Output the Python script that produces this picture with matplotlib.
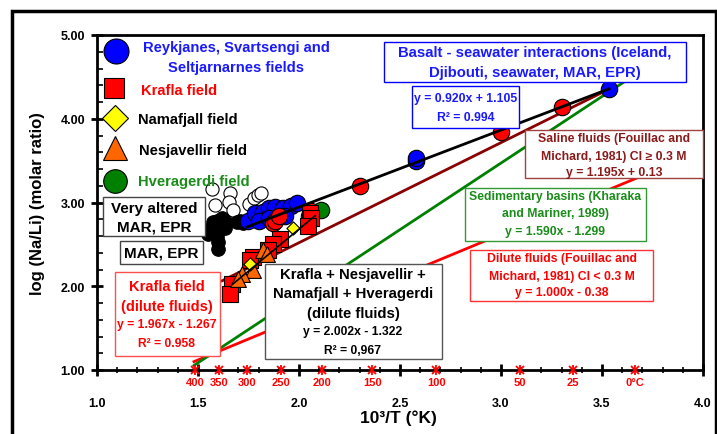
import matplotlib
matplotlib.use("Agg")
import matplotlib.pyplot as plt
from matplotlib.patches import Rectangle
from matplotlib.lines import Line2D
import numpy as np

plt.rcParams['font.family'] = ['Liberation Sans', 'DejaVu Sans']
plt.rcParams['font.weight'] = 'bold'

# ---------------- data ----------------
# Basalt-seawater reference points
basalt_red_x = [2.30, 3.00, 3.30]
basalt_red_y = [3.20, 3.84, 4.14]
basalt_blue_x = [2.58, 2.58, 3.535]
basalt_blue_y = [3.50, 3.53, 4.35]

# Reykjanes, Svartsengi and Seltjarnarnes (blue)
rey_x = [1.75, 1.78, 1.82, 1.85, 1.88, 1.92, 1.96, 1.99, 1.80, 1.85, 1.93]
rey_y = [2.78, 2.87, 2.89, 2.93, 2.95, 2.93, 2.96, 2.99, 2.78, 2.81, 2.84]

# Krafla circles (red) in cluster
kraf_c_x = [1.87, 1.88, 1.90, 2.05, 2.06]
kraf_c_y = [2.75, 2.78, 2.84, 2.84, 2.90]

# Krafla squares (dilute)
kraf_s_x = [2.054, 2.06, 2.045, 1.906, 1.871, 1.847, 1.772, 1.757, 1.668, 1.658]
kraf_s_y = [2.87, 2.81, 2.72, 2.57, 2.51, 2.43, 2.35, 2.31, 2.03, 1.91]

# Namafjall (yellow diamonds)
nama_x = [1.97, 1.757]
nama_y = [2.69, 2.27]

# Nesjavellir (orange triangles)
nesj_x = [1.82, 1.84, 1.77, 1.72, 1.70]
nesj_y = [2.43, 2.39, 2.19, 2.15, 2.09]

# Hveragerdi (green)
hver_x = [2.11]
hver_y = [2.91]

# MAR, EPR (black)
mar_x = [1.574, 1.594, 1.619, 1.634, 1.584, 1.594, 1.599, 1.599, 1.584, 1.624,
         1.708, 1.723, 1.743, 1.693, 1.634, 1.55, 1.56]
mar_y = [2.77, 2.78, 2.81, 2.78, 2.69, 2.60, 2.53, 2.45, 2.65, 2.72,
         2.78, 2.75, 2.77, 2.77, 2.69, 2.62, 2.68]

# Very altered MAR, EPR (white)
alt_x = [1.569, 1.658, 1.653, 1.584, 1.673, 1.752, 1.777, 1.797, 1.812]
alt_y = [3.156, 3.108, 3.01, 2.976, 2.916, 2.988, 3.048, 3.084, 3.108]

# fitted lines: slope, intercept, x-range
fit_basalt = (0.920, 1.105, 1.74, 3.535)
fit_saline = (1.195, 0.13, 1.62, 3.56)
fit_sed = (1.590, -1.299, 1.48, 3.66)
fit_dilute = (1.000, -0.38, 1.48, 3.75)
fit_kn = (2.002, -1.322, 1.67, 2.08)

# temperature marks on x-axis
temp_labels = ['400', '350', '300', '250', '200', '150', '100', '50', '25', '0°C']
temp_x = [1.486, 1.605, 1.745, 1.911, 2.113, 2.363, 2.680, 3.095, 3.354, 3.661]

x_ticks = [1.0, 1.5, 2.0, 2.5, 3.0, 3.5, 4.0]
y_ticks = [1.0, 2.0, 3.0, 4.0, 5.0]

# ---------------- figure ----------------
W, H = 717, 435
fig = plt.figure(figsize=(W / 100, H / 100), dpi=100)

def fx(x):
    return x / W

def fy(y):
    return 1 - y / H

ax = fig.add_axes([fx(97), fy(371), fx(703) - fx(97), fy(36) - fy(371)])
ax.set_xlim(1.0, 4.0)
ax.set_ylim(1.0, 5.0)
for s in ax.spines.values():
    s.set_linewidth(2)

ax.set_xticks(x_ticks)
ax.set_xticklabels([f'{v:.1f}' for v in x_ticks])
ax.set_xticks(np.arange(1.0, 4.001, 0.1), minor=True)
ax.set_yticks(y_ticks)
ax.set_yticklabels([f'{v:.2f}' for v in y_ticks])
ax.set_yticks(np.arange(1.0, 5.001, 0.2), minor=True)
ax.tick_params(axis='x', which='major', direction='inout', length=9, width=2,
               pad=15, labelsize=9)
ax.tick_params(axis='x', which='minor', direction='inout', length=5, width=1.2)
ax.tick_params(axis='y', which='major', direction='inout', length=9, width=2,
               pad=4, labelsize=9)
ax.tick_params(axis='y', which='minor', direction='in', length=4, width=1.2)
for lab in ax.get_xticklabels() + ax.get_yticklabels():
    lab.set_fontweight('bold')

# lines
def fitline(f, color, lw, z):
    m, b, x0, x1 = f
    xs = np.array([x0, x1])
    ax.plot(xs, m * xs + b, color=color, lw=lw, zorder=z)

fitline(fit_dilute, '#ff0000', 2.0, 2)
fitline(fit_sed, '#008000', 2.0, 2)
fitline(fit_saline, '#8b0000', 2.0, 2)

# markers
ax.scatter(alt_x, alt_y, s=90, facecolor='white', edgecolor='black', lw=0.8, zorder=3)
ax.scatter(mar_x, mar_y, s=95, facecolor='black', edgecolor='black', lw=0.8, zorder=3)
ax.scatter(rey_x, rey_y, s=140, facecolor='#0000ff', edgecolor='black', lw=0.8, zorder=3)
ax.scatter(kraf_c_x, kraf_c_y, s=140, facecolor='#ff0000', edgecolor='black', lw=0.8, zorder=3)
ax.scatter(hver_x, hver_y, s=140, facecolor='#008000', edgecolor='black', lw=0.8, zorder=3)
ax.scatter(kraf_s_x, kraf_s_y, s=120, marker='s', facecolor='#ff0000', edgecolor='black', lw=0.8, zorder=3)
ax.scatter(nesj_x, nesj_y, s=130, marker='^', facecolor='#ff6600', edgecolor='black', lw=0.8, zorder=3)
ax.scatter(nama_x, nama_y, s=45, marker='D', facecolor='#ffff00', edgecolor='black', lw=0.8, zorder=3)
ax.scatter(basalt_blue_x, basalt_blue_y, s=140, facecolor='#0000ff', edgecolor='black', lw=0.8, zorder=3)
ax.scatter(basalt_red_x, basalt_red_y, s=140, facecolor='#ff0000', edgecolor='black', lw=0.8, zorder=3)

fitline(fit_basalt, 'black', 2.0, 4)
fitline(fit_kn, 'black', 1.2, 4)

# temperature markers
ax.plot(temp_x, [1.0] * len(temp_x), ls='none', marker='x', ms=6, mew=1.3,
        color='#ff0000', zorder=6, clip_on=False)
ax.plot(temp_x, [1.0] * len(temp_x), ls='none', marker='|', ms=7, mew=1.3,
        color='#ff0000', zorder=6, clip_on=False)
for t, x in zip(temp_labels, temp_x):
    ax.text(x, 1.0 - 0.085, t, ha='center', va='top',
            fontsize=8, color='#ff0000', fontweight='bold', clip_on=False)

# axis labels
fig.text(fx(38), fy(204), 'log (Na/Li) (molar ratio)', rotation=90,
         ha='center', va='center', fontsize=12, fontweight='bold')
fig.text(fx(398), fy(418), '10³/T (°K)', ha='center', va='center',
         fontsize=12.5, fontweight='bold')

# legend
leg_items = [
    (116, 52, 'o', '#0000ff', 18),
    (114, 89, 's', '#ff0000', 15),
    (115, 119, 'D', '#ffff00', 13),
    (115, 149, '^', '#ff6600', 17),
    (115, 182, 'o', '#008000', 17),
]
for x, y, m, c, ms in leg_items:
    fig.add_artist(Line2D([fx(x)], [fy(y)], marker=m, ms=ms, mfc=c, mec='black',
                          mew=0.8, ls='none', transform=fig.transFigure))
fig.text(fx(236), fy(48), 'Reykjanes, Svartsengi and', ha='center', va='center',
         fontsize=10.6, color='#1a1aff', fontweight='bold')
fig.text(fx(236), fy(68), 'Seltjarnarnes fields', ha='center', va='center',
         fontsize=10.6, color='#1a1aff', fontweight='bold')
fig.text(fx(141), fy(91), 'Krafla field', ha='left', va='center',
         fontsize=10.6, color='#ff0000', fontweight='bold')
fig.text(fx(138), fy(120), 'Namafjall field', ha='left', va='center',
         fontsize=10.6, color='black', fontweight='bold')
fig.text(fx(139), fy(151), 'Nesjavellir field', ha='left', va='center',
         fontsize=10.6, color='black', fontweight='bold')
fig.text(fx(138), fy(182), 'Hveragerdi field', ha='left', va='center',
         fontsize=10.6, color='#1a8c1a', fontweight='bold')

# boxes
def box(x0, y0, x1, y1, ec, lw=1.0):
    fig.add_artist(Rectangle((fx(x0), fy(y1)), fx(x1) - fx(x0), fy(y0) - fy(y1),
                             transform=fig.transFigure, facecolor='white',
                             edgecolor=ec, lw=lw, zorder=5))

def txt(x, y, s, size, color):
    fig.text(fx(x), fy(y), s, ha='center', va='center', fontsize=size,
             color=color, fontweight='bold', zorder=6)

box(103, 198, 205, 237, '#444444')
txt(154, 209, 'Very altered', 11, 'black')
txt(154, 228, 'MAR, EPR', 11, 'black')

box(120, 242, 203, 265, '#444444')
txt(161, 253, 'MAR, EPR', 11, 'black')

box(115, 273, 220, 357, '#ff5050')
txt(167, 287, 'Krafla field', 10.5, '#ff0000')
txt(167, 307, '(dilute fluids)', 10.5, '#ff0000')
txt(167, 325, 'y = 1.967x - 1.267', 8.7, '#ff0000')
txt(167, 344, 'R² = 0.958', 8.7, '#ff0000')

box(265, 265, 442, 360, '#555555')
txt(353, 275, 'Krafla + Nesjavellir +', 10.7, 'black')
txt(353, 294, 'Namafjall + Hveragerdi', 10.7, 'black')
txt(353, 314, '(dilute fluids)', 10.7, 'black')
txt(353, 332, 'y = 2.002x - 1.322', 8.7, 'black')
txt(353, 351, 'R² = 0,967', 8.7, 'black')

box(384, 43, 686, 83, '#0000ff')
txt(535, 53, 'Basalt - seawater interactions (Iceland,', 10.7, '#1a1aff')
txt(535, 73, 'Djibouti, seawater, MAR, EPR)', 10.7, '#1a1aff')

box(412, 87, 519, 129, '#0000ff')
txt(466, 99, 'y = 0.920x + 1.105', 8.8, '#1a1aff')
txt(466, 118, 'R² = 0.994', 8.8, '#1a1aff')

box(525, 131, 703, 179, '#a04040')
txt(614, 139, 'Saline fluids (Fouillac and', 8.8, '#8b1a1a')
txt(614, 157, 'Michard, 1981) Cl ≥ 0.3 M', 8.8, '#8b1a1a')
txt(614, 173, 'y = 1.195x + 0.13', 8.8, '#8b1a1a')

box(465, 189, 646, 242, '#339933')
txt(555, 197, 'Sedimentary basins (Kharaka', 8.8, '#1a8c1a')
txt(555, 214, 'and Mariner, 1989)', 8.8, '#1a8c1a')
txt(555, 232, 'y = 1.590x - 1.299', 8.8, '#1a8c1a')

box(470, 251, 653, 302, '#ff3333')
txt(562, 259, 'Dilute fluids (Fouillac and', 8.8, '#ff0000')
txt(562, 277, 'Michard, 1981) Cl < 0.3 M', 8.8, '#ff0000')
txt(562, 293, 'y = 1.000x - 0.38', 8.8, '#ff0000')

# outer frame
fig.add_artist(Rectangle((fx(12), fy(445)), fx(716) - fx(12), fy(12) - fy(445),
                         transform=fig.transFigure, facecolor='none',
                         edgecolor='black', lw=2.5, zorder=10))

fig.savefig('out.png', dpi=100)
